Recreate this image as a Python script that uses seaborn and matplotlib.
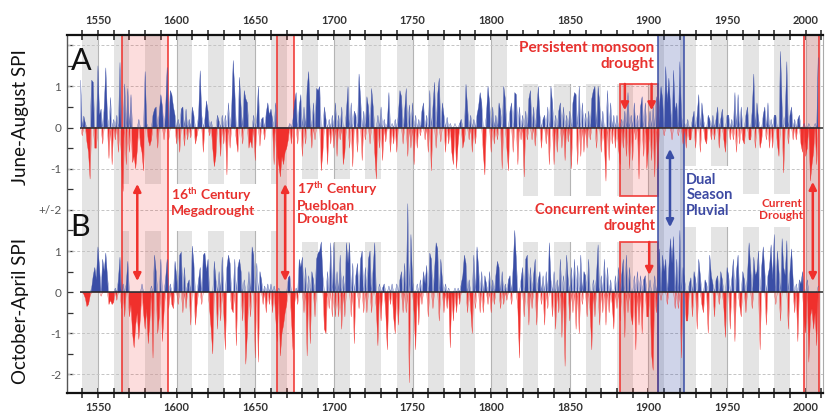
import numpy as np
import pandas as pd
import matplotlib
matplotlib.use("Agg")
import matplotlib.pyplot as plt
from matplotlib.patches import Rectangle
from matplotlib.ticker import MultipleLocator, FixedLocator
import seaborn as sns

# ---------------- data ----------------
start_year = 1539

jja_spi = [
    1.15,
    -0.2, 0.28, 0.1, -0.35, -0.6, -1.25, 1.15, 1.1, -0.5, -0.5,     # 1540s
    1.5, 0.3, 0.45, -0.4, 0.5, 1.45, 0.3, -0.75, 0.73, -0.9,        # 1550s
    0.2, -0.3, 0.3, -0.6, 1.58, -0.8, -1.55, 1.06, -0.9, 0.95,      # 1560s
    -0.6, 0.8, -0.85, -0.7, -1.0, -0.55, 0.2, -0.4, -0.6, -1.05,    # 1570s
    1.36, 0.1, -0.3, -0.45, -0.3, 0.3, 0.45, 0.5, -0.5, 0.35,       # 1580s
    0.8, 0.5, -0.3, 0.4, 1.46, -0.3, 0.9, 0.8, 0.5, 0.3,            # 1590s
    -0.4, 0.2, -0.6, 0.45, 0.5, -0.45, 0.45, -0.3, 0.2, -0.25,      # 1600s
    0.5, 0.3, -0.4, -0.2, 0.3, 1.38, 0.3, -0.6, 0.2, 0.65,          # 1610s
    0.4, -0.2, 0.15, -0.5, -0.95, -0.7, 0.3, 0.15, -0.7, 0.3,       # 1620s
    -0.4, 0.3, -1.15, 0.6, -0.5, 0.4, 1.63, 0.9, -0.3, -0.6,        # 1630s
    1.22, 0.5, -0.4, 0.9, 0.7, 0.6, -0.5, -0.3, -0.5, 0.3,          # 1640s
    -0.8, 0.2, 1.0, -0.45, 0.2, 0.25, -0.3, 0.35, 0.6, 0.3,         # 1650s
    0.45, 0.2, -0.9, 0.6, -0.6, -0.9, -1.2, -0.7, -0.9, -0.6,       # 1660s
    -0.5, -0.3, 0.1, -0.4, 0.2, 0.6, 0.85, -0.4, 0.5, 0.8,          # 1670s
    -0.7, 0.5, -0.4, 0.95, 1.36, 0.3, -0.5, 0.6, -0.3, 0.95,        # 1680s
    0.9, 1.0, -1.05, -0.6, 0.5, 0.2, -0.9, 0.2, -0.4, 0.3,          # 1690s
    -0.5, 0.6, -0.7, 0.3, -0.3, 0.5, -0.9, -0.6, 0.4, 1.0,          # 1700s
    -0.5, 0.6, -0.95, 0.4, 0.3, -0.6, 1.3, 0.7, -0.8, 0.4,          # 1710s
    -0.3, 0.75, 0.5, -0.4, 0.95, 0.5, -0.6, -1.25, 0.3, -0.5,       # 1720s
    0.5, -0.8, 0.2, -0.35, 0.1, 0.85, -0.6, 0.1, -0.4, 0.2,         # 1730s
    -0.6, 0.3, 0.9, 0.75, -0.4, 0.4, 0.95, -0.7, 0.55, -0.5,        # 1740s
    0.6, -0.9, 0.3, -0.5, 0.2, -0.2, 0.4, 0.6, -0.3, 0.3,           # 1750s
    -0.6, 0.9, -1.05, 0.5, 1.1, -0.5, 0.8, 1.2, -0.35, 0.6,         # 1760s
    0.3, -0.6, 0.25, -0.4, 0.1, -0.6, -0.9, 0.1, -1.0, -0.4,        # 1770s
    0.1, 0.2, -0.5, -0.3, 1.05, 0.5, -0.3, 0.3, -0.6, 0.2,          # 1780s
    -0.4, 0.3, 0.5, 0.85, 0.6, -0.6, -1.15, 0.3, 1.0, 0.6,          # 1790s
    -0.6, 0.5, -0.4, 0.3, -0.3, 0.6, 0.4, -1.0, 1.0, 0.7,           # 1800s
    -0.5, -1.05, 0.4, 0.6, -0.6, 0.85, 0.8, -0.9, 0.5, -0.3,        # 1810s
    0.3, -1.2, 0.4, -0.3, 0.7, 0.9, -0.3, 0.5, -0.45, 0.4,          # 1820s
    1.0, 0.3, -0.5, 0.2, 0.3, -0.4, 0.5, -0.9, 1.0, 0.6,            # 1830s
    -0.9, 0.3, -0.6, 0.4, 0.6, -0.5, 0.5, -0.8, 0.3, -0.35,         # 1840s
    0.4, -1.0, 0.6, 0.85, 0.8, -0.9, 1.0, -0.7, 0.6, -0.6,          # 1850s
    0.35, -0.5, 0.4, -0.3, 0.7, 0.9, 1.0, -0.5, 1.0, 0.6,           # 1860s
    -0.6, 0.4, -0.4, -1.3, 0.9, -0.8, 0.6, -0.4, 0.3, -0.5,         # 1870s
    0.3, -0.5, -0.9, 0.2, -0.5, 0.4, -0.7, 0.85, -1.0, 0.3,         # 1880s
    -0.8, 0.6, -0.3, 0.3, -1.25, 0.5, 0.75, -0.7, 0.6, -1.0,        # 1890s
    -0.5, 0.4, -0.8, 0.5, -1.2, 0.75, -1.0, 0.5, 1.0, 0.7,          # 1900s
    -0.2, 1.48, 0.6, 1.2, 0.55, -0.3, 1.39, 0.4, 0.6, -0.2,         # 1910s
    1.6, 0.3, -0.4, 0.1, -0.5, 0.2, -0.3, -0.3, 0.2, 0.4,           # 1920s
    -0.5, 0.3, 0.8, -0.6, 0.6, 0.2, -0.3, -0.4, 0.3, 0.2,           # 1930s
    -0.3, 0.3, -0.3, 0.2, 0.5, -0.5, 0.2, 0.45, -0.3, -0.6,         # 1940s
    0.3, 0.3, -0.3, 0.2, -0.3, 0.85, -0.6, 0.8, -0.4, 0.5,          # 1950s
    -0.3, -0.4, 0.3, 0.5, -0.3, -0.3, 0.4, 1.3, -0.5, 0.6,          # 1960s
    0.2, -0.5, -0.3, 0.3, 0.5, -0.3, 0.6, -0.5, 0.2, -0.5,          # 1970s
    0.3, 0.3, -0.4, -0.7, 1.85, 0.5, -1.1, 0.3, 1.6, -0.4,          # 1980s
    0.3, 0.5, -0.3, 0.2, -0.3, 0.2, 0.3, -0.4, -0.6, 0.1,           # 1990s
    -0.7, -0.5, 0.1, -1.3, -0.9, -0.6, 0.1, -0.9, 1.7,              # 2000-2008
]

oct_apr_spi = [
    0.0,
    0.0, -0.05, -0.15, -0.35, -0.3, -0.1, 0.1, 0.4, 0.6, 0.3,       # 1540s
    1.1, 0.6, -0.1, 0.8, 0.5, 0.95, 0.4, -0.3, -0.2, -0.3,          # 1550s
    -0.25, 0.1, -0.2, 0.3, 0.85, -0.4, 0.2, -0.6, 0.2, 0.75,        # 1560s
    -0.6, -0.3, -1.0, -1.35, -0.8, -0.5, -1.15, -0.6, 0.2, -0.5,    # 1570s
    -0.9, -0.4, -1.25, -0.7, 0.15, -1.6, 0.9, 0.5, -1.0, -0.6,      # 1580s
    0.8, -1.2, -0.5, 0.3, 0.8, -0.4, 0.2, -0.3, -0.4, 0.75,         # 1590s
    0.4, -0.3, 0.9, 0.97, -0.5, 0.6, -0.4, 0.2, 0.3, -0.8,          # 1600s
    1.12, 0.7, -0.8, -0.3, 0.3, 0.6, -0.3, 0.9, 0.95, 0.5,          # 1610s
    0.8, -0.4, -0.9, -1.5, 0.75, 0.3, -0.9, 0.5, -0.7, 0.85,        # 1620s
    -0.5, -1.4, 0.6, 0.9, 0.7, -0.4, -0.5, 0.8, -1.3, 0.6,          # 1630s
    0.8, 0.5, -0.7, 0.3, -1.75, -1.0, 0.5, -0.6, 1.1, 0.9,          # 1640s
    -1.6, 0.7, -1.7, 0.5, 0.3, -0.3, 0.15, -0.5, 0.2, -0.3,         # 1650s
    0.2, -0.5, 0.15, -0.6, -1.2, 0.1, -1.55, -1.0, -0.8, -0.5,      # 1660s
    -0.3, 0.35, 0.4, -0.6, -1.4, -0.3, 0.1, -0.3, 0.8, 0.6,         # 1670s
    0.85, -0.5, 0.6, -1.55, 0.4, -1.25, 0.5, 0.3, -0.6, 0.8,        # 1680s
    0.95, 1.0, 1.22, 0.4, -0.9, -1.0, 0.5, -0.4, 1.2, -0.6,         # 1690s
    1.2, -0.6, 0.5, -0.6, 0.9, -0.9, 0.4, -0.6, 1.2, 0.7,           # 1700s
    1.2, -0.6, 0.7, -1.25, 0.4, 0.7, -0.4, 0.8, 1.0, -0.5,          # 1710s
    0.6, -0.5, 0.8, 1.0, -0.5, 0.6, 1.2, -0.4, -1.3, 0.2,           # 1720s
    -0.7, 0.1, 0.2, -0.5, -1.4, 0.15, -0.3, 0.2, -0.6, -1.0,        # 1730s
    0.2, -0.8, 0.3, 0.5, -0.5, 0.7, -0.5, 2.15, -2.2, 1.4,          # 1740s
    0.3, -0.5, -1.4, 0.2, -0.8, 0.3, -0.3, 0.5, 0.2, 0.65,          # 1750s
    -0.6, 0.95, 0.8, -0.4, 0.5, 1.2, 1.05, -0.7, 0.8, 0.3,          # 1760s
    -0.5, 0.2, -0.4, 0.1, -1.35, 0.0, -0.7, 0.1, -0.5, 0.1,         # 1770s
    -0.3, 0.2, 0.4, 0.9, 0.7, -0.5, 0.3, -0.4, -1.0, 0.9,           # 1780s
    -0.4, 1.1, 0.6, -0.5, 0.5, -0.5, 0.4, 0.2, -0.3, 0.5,           # 1790s
    -0.5, 0.3, -0.3, 0.4, 0.75, 0.6, -0.4, 0.5, -0.3, 0.2,          # 1800s
    -0.2, 0.3, 0.4, -0.3, 0.6, 1.5, 0.8, -0.4, -1.6, 0.3,           # 1810s
    0.6, -0.6, 0.8, 0.9, -0.8, 0.6, -0.4, 0.4, 0.8, -0.8,           # 1820s
    0.3, 0.5, -0.3, 0.4, -0.8, 0.5, -0.4, 1.2, 0.3, -0.6,           # 1830s
    0.5, -0.9, 0.3, -0.5, 0.8, -1.1, 0.4, -1.8, 0.9, 0.3,           # 1840s
    -0.7, 0.6, -0.5, 0.8, -0.9, 0.65, -1.0, 0.9, -0.3, 0.5,         # 1850s
    0.4, -0.6, 0.8, -0.5, -1.4, 0.3, -0.6, 0.4, 1.15, -0.8,         # 1860s
    0.4, -0.5, 0.8, -0.8, 0.6, -0.5, 0.3, -0.3, -0.9, 0.4,          # 1870s
    -0.4, 0.6, -0.7, 0.4, 0.8, -1.1, 0.9, -0.5, 0.6, -0.6,          # 1880s
    -0.8, 0.4, -1.4, 0.5, -0.8, 0.4, -1.0, 0.3, 0.4, -0.6,          # 1890s
    -0.6, 0.3, -1.5, -1.9, 0.4, -0.5, 0.3, 1.05, -0.2, 0.9,         # 1900s
    0.5, 0.8, -0.3, 0.6, 1.3, 0.7, 1.35, -0.4, 0.8, -0.4,           # 1910s
    1.5, -1.6, 0.6, 0.3, -0.7, -0.7, 0.2, 0.35, -0.6, 0.5,          # 1920s
    0.3, -0.9, 0.8, 0.4, -0.3, -0.5, 0.3, 0.2, -1.0, 0.9,           # 1930s
    0.4, 0.2, -0.6, 0.3, 0.4, -0.3, 0.5, 0.3, -0.4, -1.1,           # 1940s
    0.6, 0.4, -0.9, 0.3, 0.8, -1.2, 0.5, 0.9, -0.3, -0.6,           # 1950s
    0.5, 0.3, -0.5, 0.4, 1.2, 0.6, -0.4, 0.85, 0.4, 0.5,            # 1960s
    1.0, -1.4, 0.6, 1.1, 0.5, -0.8, 0.4, 0.6, 1.15, 0.3,            # 1970s
    1.4, -0.3, 1.0, 0.5, -0.7, 1.3, 0.6, 0.4, 1.25, -0.9,           # 1980s
    0.5, 1.05, 0.3, -0.5, 0.2, -1.2, 0.3, 0.2, 0.5, -0.7,           # 1990s
    -1.0, 0.3, -1.7, -0.6, -0.4, -0.9, -0.5, -1.3, 0.15,            # 2000-2008
]

ytick_values = [5, 4, 3, 2, 1, 0, -1, -2]
ytick_labels = ["1", "0", "-1", "+/-2", "1", "0", "-1", "-2"]
year_labels = list(range(1550, 2001, 50))

# ---------------- style ----------------
sns.set_theme(style="white")
plt.rcParams["font.family"] = ["Lato", "DejaVu Sans"]
plt.rcParams["mathtext.fontset"] = "custom"
plt.rcParams["mathtext.rm"] = "Lato"
plt.rcParams["mathtext.bf"] = "Lato:bold"

BLUE = "#3a4ea6"
RED = "#f0302c"
TXT_RED = "#e8312e"
TXT_BLUE = "#3d4aa3"
BAND = "#e4e4e4"
A_OFF = 4.0
YMIN, YMAX = -2.45, 6.25
XMIN, XMAX = 1530.3, 2010.9

fig = plt.figure(figsize=(8.27, 4.17), dpi=100)
ax = fig.add_axes([0.081, 0.0576, 0.914, 0.8585])
ax.set_xlim(XMIN, XMAX)
ax.set_ylim(YMIN, YMAX)

# decade background bands
for d in range(1540, 2001, 20):
    ax.axvspan(d, d + 10, color=BAND, lw=0, zorder=0.5)
for y in year_labels:
    ax.axvline(y, color="#b4b4b4", lw=0.8, zorder=0.6)

# white text areas that interrupt the bands
gaps = [(1565, 1664, 1.48, 2.63), (1675, 1740, 1.22, 2.75),
        (1813, 1906, 5.06, 6.4), (1813, 1906, 1.22, 2.34),
        (1922.5, 1958, 1.58, 3.07), (1958, 1998.6, 1.58, 2.38)]
for x0, x1, y0, y1 in gaps:
    ax.add_patch(Rectangle((x0, y0), x1 - x0, y1 - y0, facecolor="white",
                           edgecolor="none", zorder=0.8))

# dashed grid
for gy in [6, 5, 3, 2, 1, -1, -2]:
    ax.axhline(gy, color="#c4c4c4", lw=0.7, ls=(0, (3, 2)), zorder=0.9)

# highlight boxes
boxes = [(1565, 1594.6, YMIN, YMAX, RED, 0.16), (1663.8, 1674.8, YMIN, YMAX, RED, 0.16),
         (1882, 1906, 2.34, 5.06, RED, 0.16), (1882, 1906, YMIN, 1.22, RED, 0.16),
         (1906, 1922.5, YMIN, YMAX, BLUE, 0.24), (1998.6, 2008.4, YMIN, YMAX, RED, 0.16)]
for x0, x1, y0, y1, c, a in boxes:
    rgb = matplotlib.colors.to_rgb(c)
    ax.add_patch(Rectangle((x0, y0), x1 - x0, y1 - y0,
                           facecolor=(*rgb, a), edgecolor=(*rgb, 0.85),
                           lw=1.3, zorder=1, clip_on=False))

# series
years_a = np.arange(start_year, start_year + len(jja_spi))
years_b = np.arange(start_year, start_year + len(oct_apr_spi))
va = np.array(jja_spi)
vb = np.array(oct_apr_spi)

for yrs, vals, off in [(years_a, va, A_OFF), (years_b, vb, 0.0)]:
    ax.fill_between(yrs, off, off + vals, where=vals >= 0, interpolate=True,
                    color=BLUE, lw=0, zorder=3)
    ax.fill_between(yrs, off, off + vals, where=vals <= 0, interpolate=True,
                    color=RED, lw=0, zorder=3)
    df = pd.DataFrame({"year": yrs, "pos": off + np.clip(vals, 0, None),
                       "neg": off + np.clip(vals, None, 0)})
    sns.lineplot(data=df, x="year", y="pos", color=BLUE, lw=0.25, ax=ax, zorder=3.1)
    sns.lineplot(data=df, x="year", y="neg", color=RED, lw=0.25, ax=ax, zorder=3.1)
    ax.hlines(off, 1538.6, XMAX, color="#262626", lw=1.1, zorder=3.5)

# arrows
def arrow(x, y_from, y_to, color, style):
    ax.annotate("", xy=(x, y_to), xytext=(x, y_from),
                arrowprops=dict(arrowstyle=style, color=color, lw=1.8,
                                mutation_scale=11, shrinkA=0, shrinkB=0),
                zorder=6)

arrow(1575, 0.27, 2.63, RED, "<|-|>")
arrow(1669, 0.27, 2.63, RED, "<|-|>")
arrow(1885, 5.06, 4.42, RED, "-|>")
arrow(1902, 5.06, 4.42, RED, "-|>")
arrow(1900.5, 1.22, 0.42, RED, "-|>")
arrow(1913.7, 1.58, 3.48, BLUE, "<|-|>")
arrow(2004.5, 0.27, 2.68, RED, "<|-|>")

# annotation texts
tk = dict(fontweight="bold", zorder=7, linespacing=1.15)
ax.text(1596.5, 2.6, "16$^{\\mathbf{th}}$ Century\nMegadrought", color=TXT_RED,
        fontsize=10, ha="left", va="top", **tk)
ax.text(1676.5, 2.73, "17$^{\\mathbf{th}}$ Century\nPuebloan\nDrought", color=TXT_RED,
        fontsize=10, ha="left", va="top", **tk)
ax.text(1903.5, 6.1, "Persistent monsoon\ndrought", color=TXT_RED,
        fontsize=11, ha="right", va="top", multialignment="right", **tk)
ax.text(1904.5, 2.17, "Concurrent winter\ndrought", color=TXT_RED,
        fontsize=10.5, ha="right", va="top", multialignment="right", **tk)
ax.text(1924, 2.9, "Dual\nSeason\nPluvial", color=TXT_BLUE,
        fontsize=10.5, ha="left", va="top", **tk)
ax.text(1984, 2.3, "Current\nDrought", color=TXT_RED,
        fontsize=8.5, ha="center", va="top", multialignment="right", **tk)

ax.text(1532.5, 5.62, "A", fontsize=22, color="#111111", ha="left", va="center", zorder=7)
ax.text(1532.5, 1.58, "B", fontsize=22, color="#111111", ha="left", va="center", zorder=7)

# y axis labels
trans = matplotlib.transforms.blended_transform_factory(ax.transAxes, ax.transData)
ax.text(-0.062, 4.25, "June-August SPI", rotation=90, fontsize=13.5, color="#111111",
        ha="center", va="center", transform=trans)
ax.text(-0.062, -0.45, "October-April SPI", rotation=90, fontsize=13.5, color="#111111",
        ha="center", va="center", transform=trans)

# ticks
ax.xaxis.set_major_locator(FixedLocator(year_labels))
ax.xaxis.set_minor_locator(MultipleLocator(10))
ax.set_xticklabels([str(y) for y in year_labels])
ax.tick_params(axis="x", which="both", top=True, bottom=True, labeltop=True,
               labelbottom=True, direction="inout", length=7, width=1.1,
               color="#222222", labelsize=8, labelcolor="#333333", pad=3)
for lab in ax.get_xticklabels():
    lab.set_fontweight("bold")
ax.set_yticks(ytick_values)
ax.set_yticklabels(ytick_labels)
ax.yaxis.set_minor_locator(MultipleLocator(0.5))
ax.tick_params(axis="y", which="both", left=True, direction="in", length=4,
               width=0.9, color="#333333", labelsize=8.5, labelcolor="#555555", pad=4)
ax.set_xlabel("")
ax.set_ylabel("")

for side in ["top", "bottom"]:
    ax.spines[side].set_linewidth(1.6)
    ax.spines[side].set_color("#111111")
    ax.spines[side].set_zorder(8)
ax.spines["left"].set_color("#555555")
ax.spines["left"].set_linewidth(1.0)
ax.spines["right"].set_color("#aaaaaa")
ax.spines["right"].set_linewidth(0.8)

if ax.get_legend() is not None:
    ax.get_legend().remove()

fig.savefig("out.png", dpi=100)
